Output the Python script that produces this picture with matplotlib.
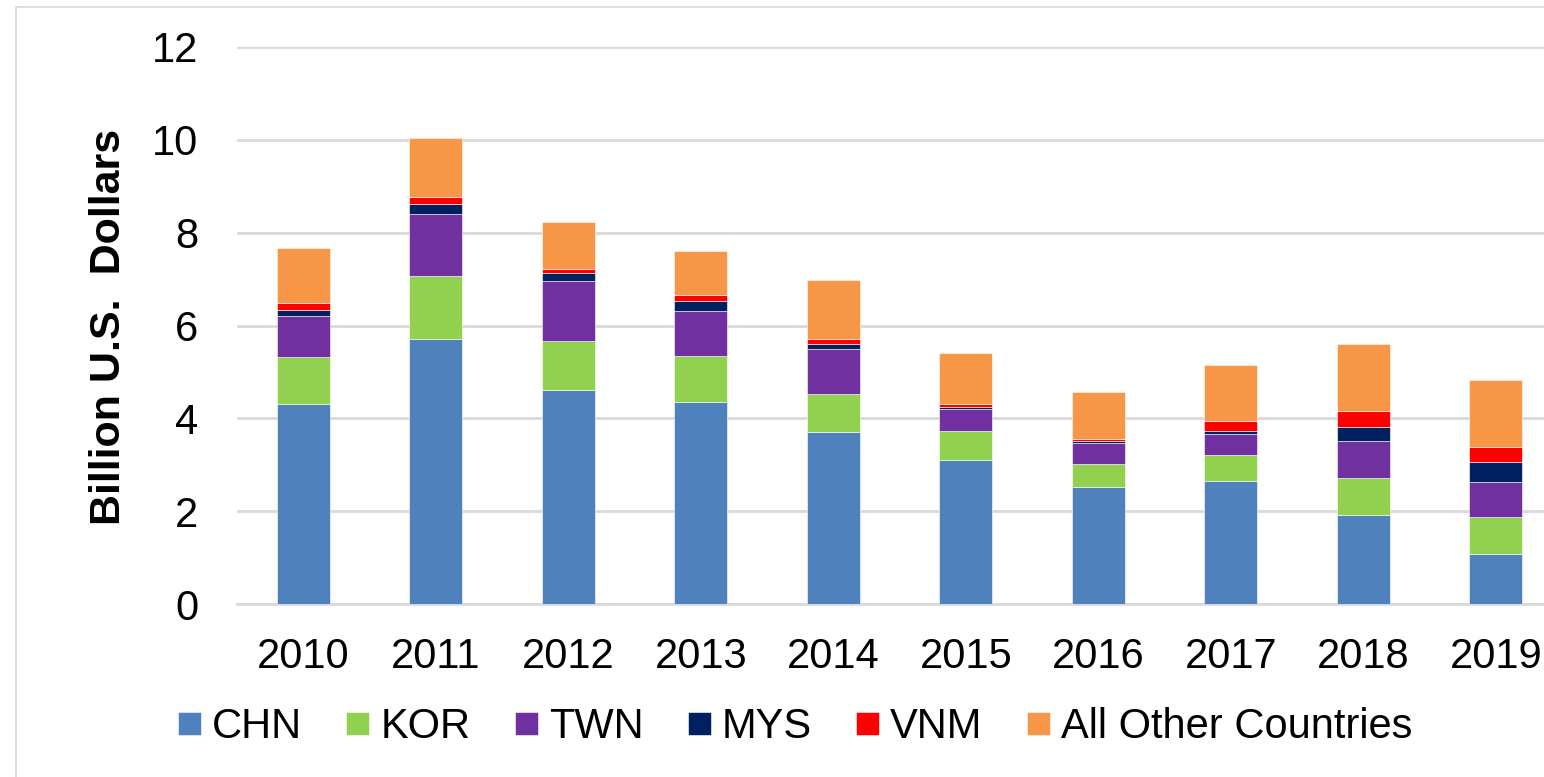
import matplotlib
matplotlib.use("Agg")
import matplotlib.pyplot as plt
import matplotlib.patches as mpatches
import numpy as np

plt.rcParams['font.family'] = ['Liberation Sans', 'DejaVu Sans']

# ---------------------- data (billion U.S. dollars)
years = ['2010', '2011', '2012', '2013', '2014', '2015', '2016', '2017', '2018', '2019']
chn = [4.31, 5.70, 4.60, 4.35, 3.70, 3.10, 2.51, 2.66, 1.91, 1.08]
kor = [1.01, 1.37, 1.07, 0.99, 0.83, 0.63, 0.51, 0.54, 0.81, 0.80]
twn = [0.89, 1.34, 1.28, 0.98, 0.96, 0.48, 0.44, 0.47, 0.80, 0.75]
mys = [0.13, 0.21, 0.18, 0.21, 0.11, 0.04, 0.05, 0.06, 0.29, 0.42]
vnm = [0.14, 0.14, 0.09, 0.13, 0.10, 0.06, 0.05, 0.21, 0.34, 0.33]
other = [1.19, 1.29, 1.01, 0.95, 1.28, 1.09, 1.01, 1.20, 1.46, 1.45]

series_names = ['CHN', 'KOR', 'TWN', 'MYS', 'VNM', 'All Other Countries']
series_vals = [chn, kor, twn, mys, vnm, other]
series_colors = ['#4F81BD', '#92D050', '#7030A0', '#002060', '#FF0000', '#F79646']

W, H = 1544, 777
fig = plt.figure(figsize=(W / 100, H / 100), dpi=100)
ax = fig.add_axes([237 / W, (H - 604) / H, 1325 / W, 557 / H])

x = np.arange(len(years))
bottom = np.zeros(len(years))
handles = []
for name, vals, col in zip(series_names, series_vals, series_colors):
    b = ax.bar(x, vals, width=0.4, bottom=bottom, color=col,
               edgecolor='#ffffff', linewidth=0.4, label=name, zorder=3)
    handles.append(b)
    bottom += np.array(vals)

ax.set_xlim(-0.5, len(years) - 0.5)
ax.set_ylim(0, 12)
ax.set_yticks(np.arange(0, 13, 2))
ax.set_xticks(x)
ax.set_xticklabels(years)
ax.yaxis.grid(True, color='#d9d9d9', linewidth=2.0, zorder=0)
ax.set_axisbelow(True)
for s in ['top', 'right', 'left']:
    ax.spines[s].set_visible(False)
ax.spines['bottom'].set_color('#d9d9d9')
ax.spines['bottom'].set_linewidth(2.0)
ax.tick_params(axis='y', length=0, pad=28, labelsize=30)
ax.tick_params(axis='x', length=0, pad=24, labelsize=30)

fig.text(109 / W, (H - 327) / H, 'Billion U.S.  Dollars', rotation=90,
         ha='center', va='center', fontsize=31, fontweight='bold')

leg = fig.legend(handles=handles, labels=series_names, loc='center left',
                 bbox_to_anchor=(178 / W, (H - 727) / H), ncol=6, frameon=False,
                 fontsize=30, handlelength=0.55, handleheight=0.48,
                 handletextpad=0.26, columnspacing=1.07, borderpad=0,
                 borderaxespad=0)

# chart frame (extends past right/bottom edge)
frame = mpatches.Rectangle((16 / W, -0.1), 1.2, (H - 7) / H + 0.1,
                           transform=fig.transFigure, fill=False,
                           edgecolor='#d9d9d9', linewidth=1.2, clip_on=False)
fig.patches.append(frame)

fig.savefig('out.png', dpi=100)
